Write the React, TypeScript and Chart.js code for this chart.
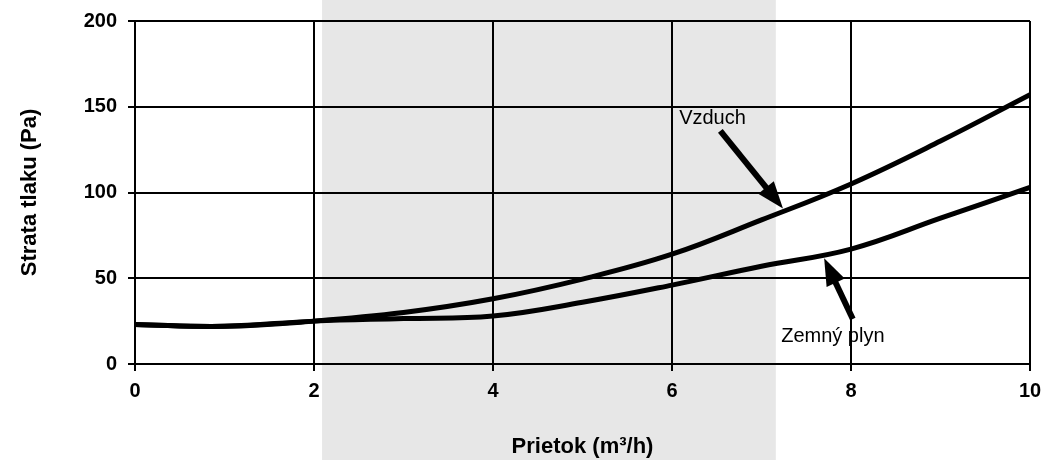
import React, { useEffect, useRef } from "react";
import { Chart, registerables } from "chart.js";

Chart.register(...registerables);

// ---- data ----
const flow = [0, 1, 2, 3, 4, 5, 6, 7, 8, 9, 10];
const vzduch = [23, 22, 25, 30, 38, 49.5, 64, 84, 105, 130, 157];
const zemnyPlyn = [23, 22, 25, 26.5, 28, 36, 46, 57, 67, 85, 103];
const seriesNames = ["Vzduch", "Zemný plyn"];
const xTitle = "Prietok (m³/h)";
const yTitle = "Strata tlaku (Pa)";
const shadedRange = [2.09, 7.16];

// annotations (data units)
const annotations = [
  { text: "Vzduch", textX: 6.08, textY: 143, fromX: 6.54, fromY: 136, toX: 7.24, toY: 90.7 },
  { text: "Zemný plyn", textX: 7.22, textY: 16.3, fromX: 8.02, fromY: 26.2, toX: 7.7, toY: 61.6 },
];

const FONT = '"Liberation Sans", Arial, Helvetica, sans-serif';

const shadePlugin = {
  id: "shade",
  beforeDraw(chart: any) {
    const ctx = chart.ctx;
    const xs = chart.scales.x;
    const x0 = xs.getPixelForValue(shadedRange[0]);
    const x1 = xs.getPixelForValue(shadedRange[1]);
    ctx.save();
    ctx.fillStyle = "#ffffff";
    ctx.fillRect(0, 0, chart.width, chart.height);
    ctx.fillStyle = "#e7e7e7";
    ctx.fillRect(x0, 0, x1 - x0, chart.height);
    ctx.restore();
  },
};

const annotationPlugin = {
  id: "arrows",
  afterDatasetsDraw(chart: any) {
    const ctx = chart.ctx;
    const xs = chart.scales.x;
    const ys = chart.scales.y;
    ctx.save();
    for (const a of annotations) {
      ctx.fillStyle = "#000";
      ctx.font = `20px ${FONT}`;
      ctx.textAlign = "left";
      ctx.textBaseline = "middle";
      ctx.fillText(a.text, xs.getPixelForValue(a.textX), ys.getPixelForValue(a.textY));

      const fx = xs.getPixelForValue(a.fromX);
      const fy = ys.getPixelForValue(a.fromY);
      const tx = xs.getPixelForValue(a.toX);
      const ty = ys.getPixelForValue(a.toY);
      const ang = Math.atan2(ty - fy, tx - fx);
      const headLen = 27;
      const headW = 10;
      const bx = tx - headLen * Math.cos(ang);
      const by = ty - headLen * Math.sin(ang);
      ctx.strokeStyle = "#000";
      ctx.lineWidth = 6;
      ctx.lineCap = "butt";
      ctx.beginPath();
      ctx.moveTo(fx, fy);
      ctx.lineTo(bx + 2 * Math.cos(ang), by + 2 * Math.sin(ang));
      ctx.stroke();
      ctx.beginPath();
      ctx.moveTo(tx, ty);
      ctx.lineTo(bx + headW * Math.sin(ang), by - headW * Math.cos(ang));
      ctx.lineTo(bx - headW * Math.sin(ang), by + headW * Math.cos(ang));
      ctx.closePath();
      ctx.fill();
    }
    ctx.restore();
  },
};

export default function App() {
  const ref = useRef<HTMLCanvasElement>(null);
  useEffect(() => {
    document.body.style.margin = "0";
    const canvas = ref.current!;
    const chart = new Chart(canvas, {
      type: "line",
      data: {
        datasets: [
          {
            label: seriesNames[0],
            data: flow.map((x, i) => ({ x, y: vzduch[i] })),
            borderColor: "#000",
            borderWidth: 5,
            pointRadius: 0,
            tension: 0.4,
            fill: false,
          },
          {
            label: seriesNames[1],
            data: flow.map((x, i) => ({ x, y: zemnyPlyn[i] })),
            borderColor: "#000",
            borderWidth: 5,
            pointRadius: 0,
            tension: 0.4,
            fill: false,
          },
        ],
      },
      options: {
        animation: false,
        responsive: false,
        layout: { padding: { top: 21, right: 15, left: 0, bottom: 0 } },
        plugins: { legend: { display: false }, tooltip: { enabled: false } },
        scales: {
          x: {
            type: "linear",
            min: 0,
            max: 10,
            afterFit: (s: any) => {
              s.height = 96;
              s.paddingLeft = 0;
              s.paddingRight = 0;
            },
            ticks: {
              stepSize: 2,
              color: "#000",
              padding: 8,
              maxRotation: 0,
              font: { family: FONT, size: 20, weight: "bold" },
            },
            grid: { color: "#000", lineWidth: 2, tickLength: 7 },
            border: { color: "#000", width: 2 },
            title: {
              display: true,
              text: xTitle,
              color: "#000",
              padding: { top: 0, bottom: 0 },
              font: { family: FONT, size: 22, weight: "bold" },
            },
          },
          y: {
            min: 0,
            max: 200,
            afterFit: (s: any) => {
              s.width = 135;
              s.paddingTop = 0;
              s.paddingBottom = 0;
            },
            ticks: {
              stepSize: 50,
              color: "#000",
              padding: 11,
              font: { family: FONT, size: 20, weight: "bold" },
            },
            grid: { color: "#000", lineWidth: 2, tickLength: 7 },
            border: { color: "#000", width: 2 },
            title: {
              display: true,
              text: yTitle,
              color: "#000",
              padding: { top: 17, bottom: 0 },
              font: { family: FONT, size: 22, weight: "bold" },
            },
          },
        },
      },
      plugins: [shadePlugin, annotationPlugin],
    } as any);
    return () => chart.destroy();
  }, []);
  return (
    <div style={{ position: "absolute", left: 0, top: 0, width: 1045, height: 460 }}>
      <canvas ref={ref} width={1045} height={460} style={{ display: "block" }} />
    </div>
  );
}
